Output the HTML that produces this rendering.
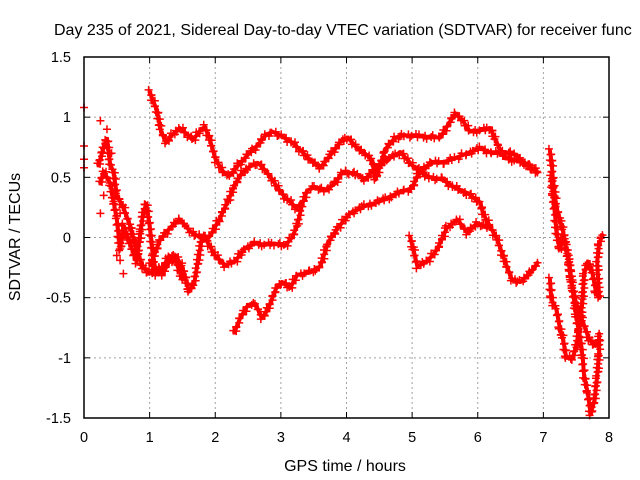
<!DOCTYPE html>
<html><head><meta charset="utf-8"><style>
html,body{margin:0;padding:0;background:#fff;}
svg{display:block;font-family:"Liberation Sans",sans-serif;}
</style></head><body>
<svg id="chart" width="640" height="480" viewBox="0 0 640 480" xmlns="http://www.w3.org/2000/svg">
<rect x="0" y="0" width="640" height="480" fill="#fff"/>
<text x="54" y="35" font-size="16" fill="#000">Day 235 of 2021, Sidereal Day-to-day VTEC variation (SDTVAR) for receiver func</text>
<g id="grid"></g>
<g id="series"></g>
<g id="axes"></g>
<text x="345" y="471" font-size="16" text-anchor="middle">GPS time / hours</text>
<text transform="translate(20,237) rotate(-90)" font-size="16" text-anchor="middle">SDTVAR / TECUs</text>
</svg>
<script>
const xTicks=[0,1,2,3,4,5,6,7,8];
const yTicks=[1.5,1,0.5,0,-0.5,-1,-1.5];
const yTickLabels=["1.5","1","0.5","0","-0.5","-1","-1.5"];
const trackA=[[1.0,1.21],[1.05,1.14],[1.11,1.06],[1.17,0.89],[1.25,0.79],[1.34,0.85],[1.46,0.91],[1.59,0.85],[1.66,0.81],[1.77,0.89],[1.84,0.92],[1.92,0.81],[2.01,0.64],[2.13,0.54],[2.23,0.52],[2.35,0.6],[2.5,0.69],[2.65,0.77],[2.77,0.85],[2.87,0.88],[3.02,0.84],[3.17,0.79],[3.29,0.73],[3.44,0.65],[3.6,0.58],[3.78,0.7],[3.9,0.79],[4.02,0.83],[4.15,0.75],[4.3,0.69],[4.39,0.64],[4.44,0.48],[4.59,0.73],[4.74,0.83],[4.89,0.85],[5.12,0.84],[5.43,0.83],[5.55,0.94],[5.66,1.03],[5.76,0.98],[5.88,0.88],[6.04,0.89],[6.19,0.91],[6.27,0.81],[6.34,0.73],[6.42,0.66],[6.57,0.64],[6.72,0.62],[6.91,0.54]];
const trackC=[[1.01,-0.23],[1.16,-0.02],[1.31,0.08],[1.46,0.15],[1.62,0.05],[1.77,0.0],[1.92,0.01],[2.07,0.16],[2.2,0.31],[2.3,0.44],[2.41,0.54],[2.53,0.59],[2.65,0.62],[2.76,0.56],[2.87,0.48],[2.99,0.38],[3.11,0.31],[3.23,0.25],[3.29,0.27]];
const trackD=[[1.84,0.0],[2.0,-0.15],[2.15,-0.23],[2.3,-0.2],[2.45,-0.09],[2.61,-0.05],[2.76,-0.06],[2.91,-0.05],[3.06,-0.07],[3.17,0.0],[3.25,0.1],[3.32,0.27],[3.4,0.39],[3.52,0.42],[3.67,0.39],[3.83,0.45],[3.93,0.54],[4.05,0.54],[4.18,0.52],[4.28,0.48],[4.44,0.58],[4.66,0.66],[4.82,0.71],[5.02,0.59],[5.27,0.5],[5.47,0.48],[5.63,0.42],[5.84,0.37],[6.04,0.29],[6.08,0.2],[6.19,0.09],[6.3,-0.02],[6.37,-0.13],[6.45,-0.25],[6.52,-0.35],[6.65,-0.37],[6.84,-0.27],[6.91,-0.21]];
const trackE=[[2.29,-0.79],[2.38,-0.67],[2.5,-0.56],[2.62,-0.56],[2.71,-0.67],[2.8,-0.6],[2.93,-0.42],[3.02,-0.37],[3.14,-0.42],[3.25,-0.31],[3.45,-0.29],[3.6,-0.24],[3.72,-0.04],[3.87,0.08],[4.05,0.2],[4.28,0.26],[4.51,0.3],[4.7,0.35],[4.89,0.39],[5.0,0.41],[5.12,0.56],[5.3,0.62],[5.5,0.63],[5.66,0.66],[5.84,0.7],[6.04,0.74],[6.22,0.7],[6.42,0.71],[6.57,0.69],[6.75,0.6],[6.9,0.55]];
const trackG=[[4.97,0.0],[5.02,-0.1],[5.08,-0.24],[5.23,-0.2],[5.38,-0.1],[5.53,0.08],[5.69,0.15],[5.84,0.04],[5.99,0.12],[6.14,0.08]];
const trackH1=[[0.22,0.6],[0.3,0.75],[0.35,0.82],[0.4,0.6],[0.45,0.55],[0.5,0.35],[0.6,0.25],[0.7,0.1],[0.8,-0.1],[0.9,-0.25],[1.0,-0.3],[1.1,-0.25],[1.2,-0.3],[1.3,-0.2],[1.4,-0.15],[1.5,-0.25],[1.6,-0.45],[1.68,-0.38],[1.75,-0.15],[1.8,0.0]];
const trackH2=[[0.25,0.45],[0.3,0.55],[0.4,0.45],[0.5,0.15],[0.55,-0.1],[0.6,0.1],[0.7,-0.05],[0.8,-0.2],[0.9,0.2],[0.95,0.28],[1.0,0.1],[1.05,-0.15],[1.1,-0.3],[1.2,-0.25],[1.3,-0.15],[1.4,-0.2],[1.5,-0.35]];
const trackR1=[[7.1,0.72],[7.13,0.6],[7.15,0.45],[7.2,0.25],[7.25,0.15],[7.3,0.05],[7.35,-0.1],[7.4,-0.25],[7.45,-0.45],[7.5,-0.65],[7.55,-0.8],[7.6,-1.0],[7.62,-1.15],[7.68,-1.3],[7.72,-1.47],[7.78,-1.35],[7.82,-1.15],[7.85,-0.95],[7.85,-0.8]];
const trackR2=[[7.12,0.5],[7.15,0.35],[7.2,0.05],[7.25,-0.1],[7.3,0.0],[7.38,-0.15],[7.42,-0.35],[7.5,-0.55],[7.6,-0.7],[7.7,-0.85],[7.8,-0.9],[7.85,-0.85]];
const trackR3=[[7.1,-0.35],[7.12,-0.5],[7.15,-0.55],[7.2,-0.6],[7.25,-0.75],[7.3,-0.85],[7.35,-1.0],[7.45,-1.0],[7.5,-0.9],[7.55,-0.75],[7.6,-0.5],[7.62,-0.3],[7.68,-0.2],[7.75,-0.3],[7.8,-0.45],[7.85,-0.5],[7.82,-0.2],[7.85,-0.05],[7.9,0.02]];
const scatter=[[0.0,1.08],[0.0,0.76],[0.0,0.65],[0.0,0.58],[0.25,0.97],[0.25,0.2],[0.35,0.9],[0.55,-0.19],[0.6,-0.3],[0.5,-0.15],[0.42,0.7],[0.3,0.35],[0.45,0.3],[0.55,0.2],[0.65,0.0],[0.75,-0.15],[0.85,0.05]];
const tracks=[trackA,trackC,trackD,trackE,trackG,trackH1,trackH2,trackR1,trackR2,trackR3];

const L=84,R=609,T=57,B=418;
function xs(v){return L+(v-0)/(8-0)*(R-L);}
function ys(v){return B-(v+1.5)/3*(B-T);}
const NS="http://www.w3.org/2000/svg";
function mk(tag,attrs,parent){const e=document.createElementNS(NS,tag);for(const k in attrs)e.setAttribute(k,attrs[k]);parent.appendChild(e);return e;}
const grid=document.getElementById('grid'),axes=document.getElementById('axes'),ser=document.getElementById('series');
xTicks.forEach((t,i)=>{
  const x=xs(t);
  if(i>0&&i<xTicks.length-1){const g=mk('line',{x1:x,y1:T,x2:x,y2:B,stroke:'#a0a0a0','stroke-dasharray':'2,3','stroke-width':1},grid);
  
  }
  mk('line',{x1:x,y1:B,x2:x,y2:B-6,stroke:'#000'},axes);
  mk('line',{x1:x,y1:T,x2:x,y2:T+6,stroke:'#000'},axes);
  const tx=mk('text',{x:x,y:B+24,'font-size':14.5,'text-anchor':'middle'},axes);
  tx.textContent=String(t);
  
  
});
yTicks.forEach((t,i)=>{
  const y=ys(t);
  if(i>0&&i<yTicks.length-1){const g=mk('line',{x1:L,y1:y,x2:R,y2:y,stroke:'#a0a0a0','stroke-dasharray':'2,3','stroke-width':1},grid);
  
  }
  mk('line',{x1:L,y1:y,x2:L+6,y2:y,stroke:'#000'},axes);
  mk('line',{x1:R,y1:y,x2:R-6,y2:y,stroke:'#000'},axes);
  const tx=mk('text',{x:71,y:y+5,'font-size':14.5,'text-anchor':'end'},axes);
  tx.textContent=yTickLabels[i];
  
  
});
const fr=mk('rect',{x:L,y:T,width:R-L,height:B-T,fill:'none',stroke:'#000','stroke-width':1.5},axes);



function plus(x,y,parent){
  return mk('path',{d:`M${x-4},${y}h8M${x},${y-4}v8`,stroke:'#ff0000','stroke-width':1.5,fill:'none'},parent);
}
tracks.forEach((tr)=>{
  const g=mk('g',{},ser);
  
  
  const pts=tr.map(p=>[xs(p[0]),ys(p[1])]);
  mk('polyline',{points:pts.map(p=>p.join(',')).join(' '),fill:'none',stroke:'#ff0000','stroke-width':4,'stroke-linejoin':'round','stroke-linecap':'round'},g);
  for(let i=0;i<pts.length-1;i++){
    const [x0,y0]=pts[i],[x1,y1]=pts[i+1];
    const d=Math.hypot(x1-x0,y1-y0);const n=Math.max(1,Math.round(d/2.5));
    for(let k=0;k<n;k++){const f=k/n;const j=((i*7+k*13)%5-2)*1.0;const jx=((i*3+k*11)%3-1)*1.0;
      plus(x0+(x1-x0)*f+jx,y0+(y1-y0)*f+j,g);}
  }
  plus(pts[pts.length-1][0],pts[pts.length-1][1],g);
});
scatter.forEach(p=>{
  const m=plus(xs(p[0]),ys(p[1]),ser);
  
  
});
</script>
</body></html>
